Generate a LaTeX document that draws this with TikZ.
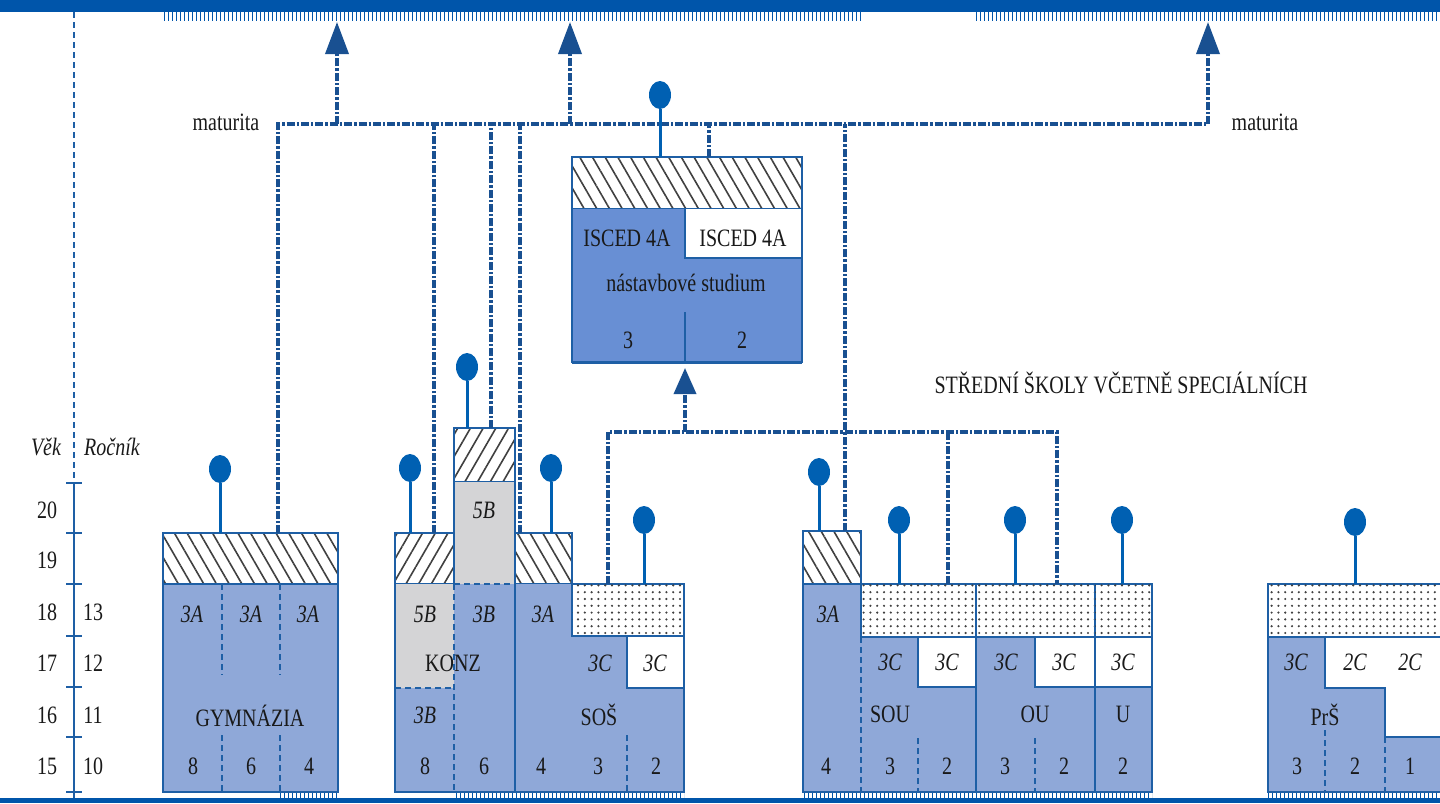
\documentclass[tikz,border=0pt]{standalone}
\usepackage{fontspec}
\setmainfont{Liberation Serif}[FakeStretch=0.8]
\usetikzlibrary{arrows.meta,patterns.meta,shapes.geometric}

\definecolor{barblue}{RGB}{0,85,170}
\definecolor{edgeblue}{RGB}{30,95,165}
\definecolor{boxblue}{RGB}{143,168,216}
\definecolor{iscblue}{RGB}{104,143,212}
\definecolor{grayfill}{RGB}{212,212,214}
\definecolor{dashblue}{RGB}{25,80,145}
\definecolor{ballblue}{RGB}{0,96,178}
\newcommand{\schoolfont}{\fontsize{12.5}{14}\selectfont}

\begin{document}
\begin{tikzpicture}[
    x=0.5pt, y=-0.5pt,
    font=\schoolfont,
    lbl/.style={inner sep=0pt, text=black!90},
    cls/.style={lbl, font=\schoolfont\itshape},
    edge/.style={draw=edgeblue, line width=1pt},
    box/.style={fill=boxblue, edge},
    hatchB/.style={edge, pattern={Lines[angle=-60,distance=5.5pt,line width=0.8pt]}, pattern color=black!75},
    hatchF/.style={edge, pattern={Lines[angle=60,distance=5.5pt,line width=0.8pt]}, pattern color=black!75},
    dots/.style={edge, fill=white, postaction={pattern={Dots[distance=3.4pt,radius=0.6pt]}, pattern color=black!75}},
    div/.style={edgeblue, line width=0.7pt, dash pattern=on 3pt off 2pt},
    conn/.style={dashblue, line width=1.8pt, dash pattern=on 4pt off 1pt on 1.2pt off 1pt},
    uparrow/.style={conn, -{Triangle[length=16pt,width=11.5pt]}},
    ball/.style={ellipse, fill=ballblue, minimum width=11pt, minimum height=14pt, inner sep=0pt},
    stick/.style={ballblue, line width=1.5pt},
    ticks/.style={pattern={Lines[angle=90,distance=2pt,line width=0.5pt]}, pattern color=barblue}
  ]
  \useasboundingbox (0,0) rectangle (1440,803);

  % horni a dolni pruh
  \fill[barblue] (0,0) rectangle (1440,12);
  \fill[ticks] (163,12) rectangle (862,20);
  \fill[ticks] (975,12) rectangle (1440,20);
  \fill[barblue] (0,798) rectangle (1440,803);
  \fill[ticks] (280,792) rectangle (338,798);
  \fill[ticks] (455,792) rectangle (684,798);
  \fill[ticks] (803,792) rectangle (1152,798);
  \fill[ticks] (1268,792) rectangle (1440,798);

  % osa vek / rocnik
  \draw[div, line width=1pt] (74,12) -- (74,483);
  \draw[edgeblue, line width=1.2pt] (74,483) -- (74,798);
  \foreach \y in {483,533,584,636,687,737,792}
    \draw[edgeblue, line width=1.2pt] (66,\y) -- (82,\y);
  \node[cls] (vek) at (46,447) {Věk};
  \node[cls] (rocnik) at (112,447) {Ročník};
  \foreach \a/\y in {20/510,19/560,18/612,17/663,16/715,15/766}
    \node[lbl] (age\a) at (47,\y) {\a};
  \foreach \r/\y in {13/612,12/663,11/715,10/766}
    \node[lbl] (roc\r) at (93,\y) {\r};

  % gymnazia
  \draw[hatchB] (163,533) rectangle (338,584);
  \draw[box] (163,584) rectangle (338,792);
  \foreach \x in {222,280} {
    \draw[div] (\x,584) -- (\x,675);
    \draw[div] (\x,735) -- (\x,792);
  }
  \foreach \x [count=\i] in {192,251,308}
    \node[cls] (gymA\i) at (\x,614) {3A};
  \node[lbl] (gym) at (250,716) {GYMNÁZIA};
  \foreach \x/\n in {193/8,251/6,309/4}
    \node[lbl] (gymN\n) at (\x,766) {\n};

  % konzervatore
  \draw[hatchF] (395,533) rectangle (454,584);
  \draw[hatchF] (454,428) rectangle (515,482);
  \fill[grayfill] (395,584) rectangle (454,688);
  \fill[grayfill] (454,482) rectangle (515,584);
  \fill[boxblue] (395,688) rectangle (454,792);
  \fill[boxblue] (454,584) rectangle (515,792);
  \draw[edge] (395,584) -- (395,792) -- (515,792) -- (515,482) (454,482) -- (454,584);
  \draw[div] (395,688) -- (454,688);
  \draw[div] (454,584) -- (515,584);
  \draw[div] (454,584) -- (454,792);
  \node[cls] (kon5a) at (425,614) {5B};
  \node[lbl] (konz) at (453,663) {KONZ};
  \node[cls] (kon3a) at (425,715) {3B};
  \node[lbl] (kon8) at (425,766) {8};
  \node[cls] (kon5b) at (484,510) {5B};
  \node[cls] (kon3b) at (484,614) {3B};
  \node[lbl] (kon6) at (484,766) {6};

  % stredni odborne skoly
  \draw[hatchB] (515,533) rectangle (572,584);
  \fill[boxblue] (515,584) rectangle (684,792);
  \draw[dots] (572,584) rectangle (684,636);
  \draw[edge, fill=white] (627,636) rectangle (684,688);
  \draw[edge] (515,584) -- (515,792) -- (684,792) -- (684,584);
  \draw[div] (627,735) -- (627,792);
  \node[cls] (sosA) at (543,614) {3A};
  \node[cls] (sosC1) at (600,663) {3C};
  \node[cls] (sosC2) at (655,663) {3C};
  \node[lbl] (sos) at (599,715) {SOŠ};
  \foreach \x/\n in {541/4,598/3,656/2}
    \node[lbl] (sosN\n) at (\x,766) {\n};

  % nastavbove studium
  \draw[hatchB] (572,157) rectangle (802,209);
  \fill[iscblue] (572,209) rectangle (802,362);
  \fill[white] (685,209) rectangle (802,258);
  \draw[edge] (572,209) -- (572,362) -- (802,362) -- (802,209);
  \draw[edge] (685,209) -- (685,258) -- (802,258);
  \draw[edgeblue, line width=0.6pt] (685,312) -- (685,362);
  \draw[edgeblue, line width=1.5pt] (572,362) -- (802,362);
  \node[lbl] (isc1) at (627,238) {ISCED 4A};
  \node[lbl] (isc2) at (743,238) {ISCED 4A};
  \node[lbl] (nast) at (686,283) {nástavbové studium};
  \node[lbl] (nast3) at (628,340) {3};
  \node[lbl] (nast2) at (742,340) {2};

  % SOU, OU, U
  \fill[boxblue] (803,584) rectangle (1152,792);
  \draw[hatchB] (803,531) rectangle (861,584);
  \draw[dots] (861,584) rectangle (976,637);
  \draw[dots] (976,584) rectangle (1095,637);
  \draw[dots] (1095,584) rectangle (1152,637);
  \draw[edge, fill=white] (918,637) rectangle (976,687);
  \draw[edge, fill=white] (1035,637) rectangle (1095,687);
  \draw[edge, fill=white] (1095,637) rectangle (1152,687);
  \draw[edge] (803,584) -- (803,792) -- (1152,792) -- (1152,584);
  \draw[edge] (976,637) -- (976,792) (1095,637) -- (1095,792);
  \draw[div] (861,637) -- (861,792);
  \draw[div] (918,738) -- (918,792);
  \draw[div] (1035,738) -- (1035,792);
  \node[cls] (souA) at (828,614) {3A};
  \node[lbl] (sou4) at (826,766) {4};
  \foreach \x [count=\i] in {890,947,1006,1064,1123}
    \node[cls] (souC\i) at (\x,662) {3C};
  \node[lbl] (sou) at (890,714) {SOU};
  \node[lbl] (ou) at (1035,714) {OU};
  \node[lbl] (u) at (1123,714) {U};
  \foreach \x/\n [count=\i] in {890/3,947/2,1005/3,1064/2,1123/2}
    \node[lbl] (souN\i) at (\x,766) {\n};

  % praktické skoly
  \fill[boxblue] (1268,584) rectangle (1440,792);
  \fill[white] (1325,637) rectangle (1385,688);
  \fill[white] (1385,637) rectangle (1440,737);
  \draw[dots] (1268,584) rectangle (1446,637);
  \draw[edge] (1268,637) -- (1268,792) -- (1446,792);
  \draw[edge] (1325,637) -- (1325,688) -- (1385,688) -- (1385,737) -- (1446,737);
  \draw[div] (1325,730) -- (1325,792);
  \draw[div] (1385,737) -- (1385,792);
  \node[cls] (prC1) at (1296,662) {3C};
  \node[cls] (prC2) at (1355,662) {2C};
  \node[cls] (prC3) at (1410,662) {2C};
  \node[lbl] (prs) at (1325,715) {PrŠ};
  \foreach \x/\n in {1297/3,1355/2,1410/1}
    \node[lbl] (prN\n) at (\x,766) {\n};

  \node[lbl] (ss) at (1121,383) {STŘEDNÍ ŠKOLY VČETNĚ SPECIÁLNÍCH};

  % propojeni - maturita
  \coordinate (gymIn) at (278,533);
  \coordinate (matR) at (1208,124);
  \coordinate (tipR) at (1208,22);
  \coordinate (tipA) at (337,22);
  \coordinate (tipB) at (570,22);
  \coordinate (kon8In) at (434,533);
  \coordinate (kon6In) at (491,428);
  \coordinate (sosIn) at (520,533);
  \coordinate (iscIn) at (709,157);
  \coordinate (souIn) at (845,531);
  \draw[conn] (gymIn) |- (matR);
  \draw[uparrow] (matR) -- (tipR);
  \draw[uparrow] (tipA |- matR) -- (tipA);
  \draw[uparrow] (tipB |- matR) -- (tipB);
  \foreach \c in {kon8In,kon6In,sosIn,iscIn,souIn}
    \draw[conn] (\c) -- (\c |- matR);
  \node[lbl] (matL) at (226,122) {maturita};
  \node[lbl] (matRt) at (1265,122) {maturita};

  % propojeni - nastavbove studium
  \coordinate (low) at (0,432);
  \coordinate (sosDot) at (608,584);
  \coordinate (ouDot) at (948,584);
  \coordinate (uDot) at (1057,584);
  \coordinate (iscBot) at (685,368);
  \draw[conn] (sosDot) |- (uDot |- low) -- (uDot);
  \draw[conn] (ouDot) -- (ouDot |- low);
  \draw[conn, -{Triangle[length=13pt,width=11pt]}] (iscBot |- low) -- (iscBot);

  % ukonceni
  \foreach \x/\yb/\yt [count=\i] in {220/533/469, 410/533/468, 467/428/367,
      551/533/468, 644/584/520, 660/157/95, 819/531/472, 899/584/520,
      1015/584/520, 1122/584/520, 1355/584/522} {
    \node[ball] (ball\i) at (\x,\yt) {};
    \draw[stick] (ball\i) -- (\x,\yb);
  }
\end{tikzpicture}
\end{document}
